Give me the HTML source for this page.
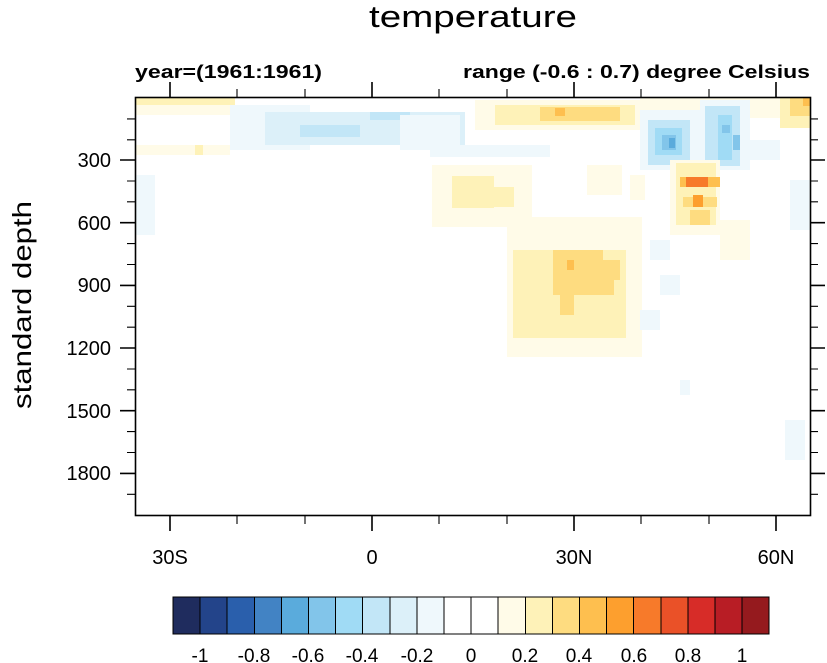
<!DOCTYPE html>
<html><head><meta charset="utf-8"><style>
html,body{margin:0;padding:0;background:#fff;}
svg{display:block;font-family:"Liberation Sans",Arial,sans-serif;}
</style></head><body>
<svg width="827" height="663" viewBox="0 0 827 663" xmlns="http://www.w3.org/2000/svg">
<text x="473" y="27" font-size="31" text-anchor="middle" textLength="208" lengthAdjust="spacingAndGlyphs">temperature</text>
<text x="135" y="78" font-size="18" font-weight="bold" textLength="187" lengthAdjust="spacingAndGlyphs">year=(1961:1961)</text>
<text x="810" y="78" font-size="18" font-weight="bold" text-anchor="end" textLength="347" lengthAdjust="spacingAndGlyphs">range (-0.6 : 0.7) degree Celsius</text>

<g shape-rendering="crispEdges">
<rect x="135" y="98" width="100" height="7" fill="#fef2b8"/>
<rect x="135" y="105" width="140" height="10" fill="#fffbe8"/>
<rect x="135" y="145" width="95" height="10" fill="#fffbe8"/>
<rect x="195" y="145" width="8" height="10" fill="#fef2b8"/>
<rect x="230" y="105" width="80" height="45" fill="#eff8fc"/>
<rect x="265" y="112" width="200" height="33" fill="#dcf0f9"/>
<rect x="300" y="125" width="60" height="12" fill="#c2e6f7"/>
<rect x="370" y="112" width="40" height="8" fill="#c2e6f7"/>
<rect x="400" y="115" width="60" height="35" fill="#eff8fc"/>
<rect x="430" y="145" width="120" height="12" fill="#eff8fc"/>
<rect x="135" y="175" width="20" height="60" fill="#eff8fc"/>
<rect x="475" y="100" width="170" height="30" fill="#fffbe8"/>
<rect x="495" y="105" width="140" height="20" fill="#fef2b8"/>
<rect x="540" y="107" width="80" height="14" fill="#fedc80"/>
<rect x="555" y="108" width="10" height="8" fill="#febf4f"/>
<rect x="640" y="98" width="140" height="20" fill="#fffbe8"/>
<rect x="780" y="98" width="30" height="30" fill="#fef2b8"/>
<rect x="790" y="98" width="20" height="18" fill="#fedc80"/>
<rect x="803" y="98" width="7" height="8" fill="#febf4f"/>
<rect x="640" y="110" width="60" height="60" fill="#eff8fc"/>
<rect x="648" y="120" width="42" height="45" fill="#c2e6f7"/>
<rect x="655" y="128" width="27" height="27" fill="#a0dbf5"/>
<rect x="662" y="135" width="14" height="15" fill="#82c5ea"/>
<rect x="669" y="138" width="6" height="10" fill="#5aabdc"/>
<rect x="700" y="100" width="50" height="70" fill="#eff8fc"/>
<rect x="705" y="106" width="35" height="60" fill="#c2e6f7"/>
<rect x="718" y="115" width="14" height="45" fill="#a0dbf5"/>
<rect x="722" y="125" width="8" height="8" fill="#82c5ea"/>
<rect x="733" y="135" width="7" height="15" fill="#82c5ea"/>
<rect x="740" y="140" width="40" height="20" fill="#eff8fc"/>
<rect x="670" y="160" width="50" height="75" fill="#fffbe8"/>
<rect x="676" y="163" width="40" height="62" fill="#fef2b8"/>
<rect x="680" y="177" width="40" height="10" fill="#febf4f"/>
<rect x="686" y="177" width="22" height="10" fill="#f77a2a"/>
<rect x="683" y="197" width="34" height="10" fill="#fedc80"/>
<rect x="693" y="195" width="10" height="12" fill="#fd9f2e"/>
<rect x="690" y="210" width="20" height="15" fill="#fedc80"/>
<rect x="432" y="165" width="100" height="62" fill="#fffbe8"/>
<rect x="452" y="176" width="42" height="32" fill="#fef2b8"/>
<rect x="494" y="187" width="20" height="20" fill="#fef2b8"/>
<rect x="587" y="165" width="35" height="30" fill="#fffbe8"/>
<rect x="630" y="175" width="15" height="25" fill="#fffbe8"/>
<rect x="507" y="217" width="135" height="140" fill="#fffbe8"/>
<rect x="513" y="250" width="113" height="88" fill="#fef2b8"/>
<rect x="553" y="250" width="50" height="45" fill="#fedc80"/>
<rect x="603" y="260" width="17" height="20" fill="#fedc80"/>
<rect x="560" y="295" width="14" height="20" fill="#fedc80"/>
<rect x="600" y="280" width="14" height="15" fill="#fedc80"/>
<rect x="567" y="260" width="7" height="10" fill="#febf4f"/>
<rect x="650" y="240" width="20" height="20" fill="#eff8fc"/>
<rect x="720" y="220" width="30" height="40" fill="#fffbe8"/>
<rect x="660" y="275" width="20" height="20" fill="#eff8fc"/>
<rect x="640" y="310" width="20" height="20" fill="#eff8fc"/>
<rect x="790" y="180" width="20" height="50" fill="#eff8fc"/>
<rect x="680" y="380" width="10" height="15" fill="#eff8fc"/>
<rect x="785" y="420" width="20" height="40" fill="#eff8fc"/>
</g>

<g stroke="#000" fill="none">
<rect x="135.5" y="97.5" width="675" height="418" stroke-width="1.6"/>
<g stroke-width="1.6">
<path d="M120 160H135M120 222.7H135M120 285.4H135M120 348H135M120 410.7H135M120 473.4H135"/>
<path d="M810 160H825M810 222.7H825M810 285.4H825M810 348H825M810 410.7H825M810 473.4H825"/>
<path d="M170 97V82M372 97V82M574 97V82M776 97V82"/>
<path d="M170 516V531M372 516V531M574 516V531M776 516V531"/>
</g>
<g stroke-width="1.1">
<path d="M127 118.9H135M127 139.8H135M127 181H135M127 201.8H135M127 243.6H135M127 264.5H135M127 306.3H135M127 327.2H135M127 369H135M127 389.8H135M127 431.6H135M127 452.5H135M127 494.3H135"/>
<path d="M810 118.9H818M810 139.8H818M810 181H818M810 201.8H818M810 243.6H818M810 264.5H818M810 306.3H818M810 327.2H818M810 369H818M810 389.8H818M810 431.6H818M810 452.5H818M810 494.3H818"/>
<path d="M237 97V89M305 97V89M439 97V89M507 97V89M641 97V89M709 97V89"/>
<path d="M237 516V524M305 516V524M439 516V524M507 516V524M641 516V524M709 516V524"/>
</g>
</g>

<g font-size="20" text-anchor="end">
<text x="111" y="167">300</text><text x="111" y="230">600</text><text x="111" y="292">900</text>
<text x="111" y="355">1200</text><text x="111" y="418">1500</text><text x="111" y="480">1800</text>
</g>
<g font-size="20" text-anchor="middle">
<text x="170" y="564">30S</text><text x="372" y="564">0</text><text x="574" y="564">30N</text><text x="776" y="564">60N</text>
</g>
<text transform="translate(31,305) rotate(-90)" font-size="26" text-anchor="middle" textLength="208" lengthAdjust="spacingAndGlyphs">standard depth</text>

<g stroke="#000" stroke-width="1" shape-rendering="crispEdges">
<rect x="173" y="597" width="27.1" height="37" fill="#1f2c5e"/>
<rect x="200.1" y="597" width="27.1" height="37" fill="#23448a"/>
<rect x="227.2" y="597" width="27.1" height="37" fill="#2a5fac"/>
<rect x="254.3" y="597" width="27.1" height="37" fill="#4283c4"/>
<rect x="281.4" y="597" width="27.1" height="37" fill="#5aabdc"/>
<rect x="308.5" y="597" width="27.1" height="37" fill="#82c5ea"/>
<rect x="335.6" y="597" width="27.1" height="37" fill="#a0dbf5"/>
<rect x="362.7" y="597" width="27.1" height="37" fill="#c2e6f7"/>
<rect x="389.8" y="597" width="27.1" height="37" fill="#dcf0f9"/>
<rect x="416.9" y="597" width="27.1" height="37" fill="#eff8fc"/>
<rect x="444" y="597" width="27.1" height="37" fill="#ffffff"/>
<rect x="471.1" y="597" width="27.1" height="37" fill="#ffffff"/>
<rect x="498.2" y="597" width="27.1" height="37" fill="#fffbe8"/>
<rect x="525.3" y="597" width="27.1" height="37" fill="#fef2b8"/>
<rect x="552.4" y="597" width="27.1" height="37" fill="#fedc80"/>
<rect x="579.5" y="597" width="27.1" height="37" fill="#febf4f"/>
<rect x="606.6" y="597" width="27.1" height="37" fill="#fd9f2e"/>
<rect x="633.7" y="597" width="27.1" height="37" fill="#f77a2a"/>
<rect x="660.8" y="597" width="27.1" height="37" fill="#ea5128"/>
<rect x="687.9" y="597" width="27.1" height="37" fill="#d72c28"/>
<rect x="715" y="597" width="27.1" height="37" fill="#b81d25"/>
<rect x="742.1" y="597" width="27.1" height="37" fill="#951a1e"/>
</g>
<g font-size="19" text-anchor="middle">
<text x="200" y="662">-1</text><text x="254" y="662">-0.8</text><text x="308" y="662">-0.6</text>
<text x="362" y="662">-0.4</text><text x="417" y="662">-0.2</text><text x="471" y="662">0</text>
<text x="525" y="662">0.2</text><text x="579" y="662">0.4</text><text x="634" y="662">0.6</text>
<text x="688" y="662">0.8</text><text x="742" y="662">1</text>
</g>
</svg>
</body></html>
